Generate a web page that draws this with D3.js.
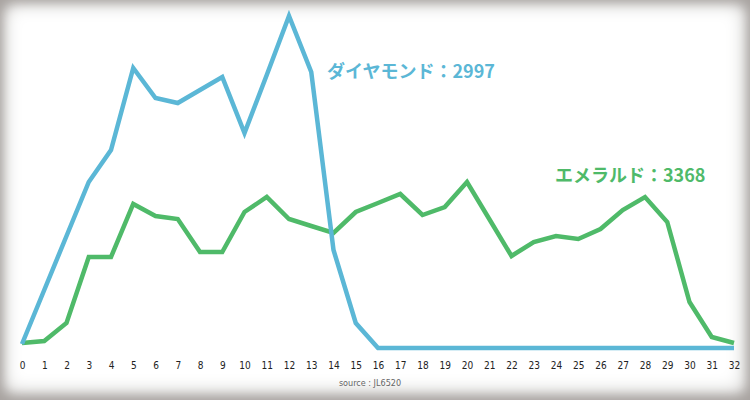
<!DOCTYPE html>
<html>
<head>
<meta charset="utf-8">
<script src="https://cdn.jsdelivr.net/npm/d3@7"></script>
<style>
body { margin:0; background:#a59f9c; }
</style>
</head>
<body>
<script>
var days = d3.range(0, 33);
var diamond = [4, 58, 112, 166, 198, 280, 250, 245, 258, 271, 215, 273, 332, 276, 98, 25, 0,
               0, 0, 0, 0, 0, 0, 0, 0, 0, 0, 0, 0, 0, 0, 0, 0];
var emerald = [5, 7, 25, 91, 91, 144, 132, 129, 96, 96, 136, 151, 129, 122, 115, 136, 145,
               154, 133, 141, 166, 129, 92, 106, 112, 109, 119, 138, 151, 126, 46, 11, 5];
var labels = ["ダイヤモンド：2997", "エメラルド：3368"];
var colors = ["#5bb7d6", "#4fba69"];

var width = 750, height = 400;
var svg = d3.select("body").append("svg")
    .attr("width", width)
    .attr("height", height);

var defs = svg.append("defs");
var f = defs.append("filter").attr("id", "blur").attr("x", "-5%").attr("y", "-5%").attr("width", "110%").attr("height", "110%");
f.append("feGaussianBlur").attr("stdDeviation", 6);

svg.append("rect").attr("width", width).attr("height", height).attr("fill", "#a8a3a0");
svg.append("rect").attr("x", 4).attr("y", 4).attr("width", 742).attr("height", 390)
    .attr("rx", 10).attr("fill", "#efefee").attr("filter", "url(#blur)");
svg.append("rect").attr("x", 12).attr("y", 12).attr("width", 724).attr("height", 372)
    .attr("rx", 10).attr("fill", "#ffffff").attr("filter", "url(#blur)");

var x = d3.scaleLinear().domain([0, 32]).range([22, 734]);
var y = d3.scaleLinear().domain([0, 332]).range([348, 16]);

var line = d3.line().x(function (d, i) { return x(i); }).y(function (d) { return y(d); });

[emerald, diamond].forEach(function (s, k) {
  svg.append("path")
      .attr("d", line(s))
      .attr("fill", "none")
      .attr("stroke", k == 0 ? colors[1] : colors[0])
      .attr("stroke-width", 4.5)
      .attr("stroke-linejoin", "miter");
});

var xAxis = svg.append("g").attr("transform", "translate(0,366)")
    .call(d3.axisBottom(x).tickValues(days).tickSize(0).tickFormat(d3.format("d")));
xAxis.select(".domain").remove();
xAxis.selectAll("text").attr("font-family", "DejaVu Sans Condensed, sans-serif")
    .attr("font-size", 10).attr("fill", "#222").attr("dy", 0);

svg.append("text").attr("x", 370).attr("y", 386).attr("text-anchor", "middle")
    .attr("font-family", "DejaVu Sans Condensed, sans-serif").attr("font-size", 9)
    .attr("fill", "#666").text("source : JL6520");

svg.append("text").attr("x", 327).attr("y", 78)
    .attr("font-family", "Noto Sans CJK JP").attr("font-weight", "bold").attr("font-size", 18)
    .attr("fill", colors[0]).text(labels[0]);
svg.append("text").attr("x", 555).attr("y", 182)
    .attr("font-family", "Noto Sans CJK JP").attr("font-weight", "bold").attr("font-size", 18)
    .attr("fill", colors[1]).text(labels[1]);
</script>
</body>
</html>
